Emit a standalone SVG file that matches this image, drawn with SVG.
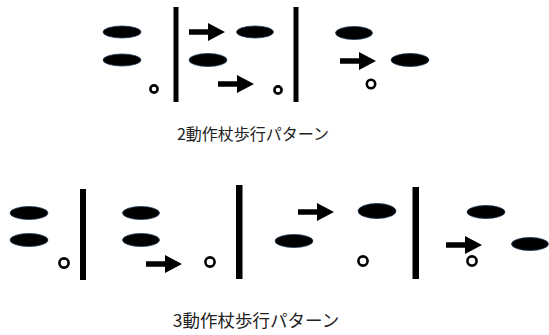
<svg xmlns="http://www.w3.org/2000/svg" xmlns:xlink="http://www.w3.org/1999/xlink" width="549" height="335" viewBox="0 0 549 335">
<style>
.foot{fill:#000;stroke:#1e3550;stroke-width:0.8}
.cane{fill:none;stroke:#000;stroke-width:2.6}
.bar{fill:#000}
.cap{font-family:"Noto Sans CJK JP","Noto Sans",sans-serif;fill:#222}
</style>
<defs>
<path id="arr" d="M0,-2.8 H19 V-9 L36,0 L19,9 V2.8 H0 Z" fill="#000"/>
</defs>
<rect width="549" height="335" fill="#fff"/>
<g id="two-point">
<ellipse class="foot" cx="122" cy="32" rx="19" ry="6"/>
<ellipse class="foot" cx="122" cy="60" rx="19" ry="6"/>
<circle class="cane" cx="154" cy="89" r="3.6"/>
<rect class="bar" x="173.5" y="7" width="5" height="95"/>
<use xlink:href="#arr" x="189" y="32"/>
<ellipse class="foot" cx="255" cy="32" rx="18.5" ry="6"/>
<ellipse class="foot" cx="208" cy="60" rx="19" ry="6.5"/>
<use xlink:href="#arr" x="218" y="84"/>
<circle class="cane" cx="278" cy="90" r="3.6"/>
<rect class="bar" x="293.5" y="7" width="5" height="95"/>
<ellipse class="foot" cx="354" cy="33" rx="18.5" ry="6.5"/>
<use xlink:href="#arr" x="340" y="61"/>
<ellipse class="foot" cx="410" cy="60" rx="19" ry="6.5"/>
<circle class="cane" cx="371" cy="84" r="4.2"/>
</g>
<g id="three-point">
<ellipse class="foot" cx="29" cy="213" rx="19" ry="6.5"/>
<ellipse class="foot" cx="29" cy="240" rx="19" ry="6.5"/>
<circle class="cane" cx="64" cy="263" r="4.6"/>
<rect class="bar" x="80" y="189" width="6" height="91"/>
<ellipse class="foot" cx="141" cy="213" rx="18.5" ry="6.5"/>
<ellipse class="foot" cx="141" cy="240" rx="18.5" ry="6.5"/>
<use xlink:href="#arr" x="146" y="264"/>
<circle class="cane" cx="210" cy="262" r="4.6"/>
<rect class="bar" x="236" y="185" width="6.5" height="94"/>
<ellipse class="foot" cx="294" cy="241" rx="19" ry="6.5"/>
<use xlink:href="#arr" x="298" y="212"/>
<ellipse class="foot" cx="377" cy="211" rx="19" ry="7.5"/>
<circle class="cane" cx="363" cy="261" r="4.6"/>
<rect class="bar" x="412.5" y="187" width="6.5" height="92"/>
<ellipse class="foot" cx="486" cy="212" rx="19" ry="6.5"/>
<use xlink:href="#arr" x="446" y="245"/>
<ellipse class="foot" cx="530" cy="244" rx="18.5" ry="6.5"/>
<circle class="cane" cx="472" cy="261" r="4.6"/>
</g>
<g id="captions">
<text class="cap" x="253" y="140" font-size="16" text-anchor="middle">2動作杖歩行パターン</text>
<text class="cap" x="256" y="327" font-size="17.5" text-anchor="middle">3動作杖歩行パターン</text>
</g>
</svg>
